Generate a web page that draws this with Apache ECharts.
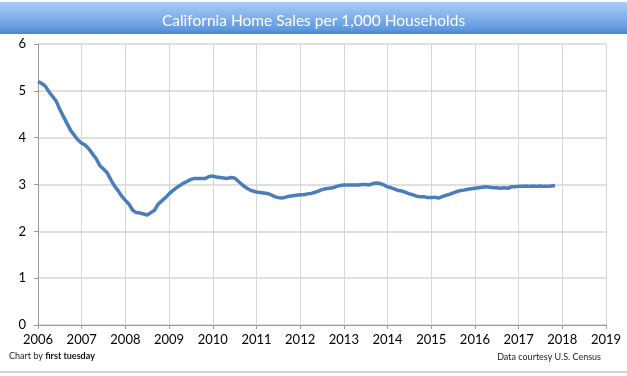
<!DOCTYPE html>
<html>
<head>
<meta charset="utf-8">
<script src="https://cdn.jsdelivr.net/npm/echarts@6/dist/echarts.min.js"></script>
<style>
  html, body { margin: 0; padding: 0; background: #fff; }
  #chart { width: 627px; height: 376px; }
</style>
</head>
<body>
<div id="chart"></div>
<script>
// 加州每千户住宅销量（月度，2006年1月起）
var startYear = 2006;
var yearTicks = [2006, 2007, 2008, 2009, 2010, 2011, 2012, 2013, 2014, 2015, 2016, 2017, 2018, 2019];
var salesPer1000 = [
    5.20, 5.16, 5.10, 4.98, 4.88, 4.78, 4.60, 4.45, 4.30, 4.15, 4.05, 3.95, // 2006
    3.88, 3.84, 3.76, 3.65, 3.55, 3.40, 3.33, 3.25, 3.10, 2.97, 2.87, 2.75, // 2007
    2.66, 2.58, 2.45, 2.40, 2.39, 2.37, 2.35, 2.40, 2.45, 2.58, 2.65, 2.72, // 2008
    2.80, 2.87, 2.93, 2.98, 3.03, 3.07, 3.11, 3.13, 3.13, 3.13, 3.13, 3.17, // 2009
    3.18, 3.16, 3.15, 3.14, 3.13, 3.15, 3.14, 3.07, 3.00, 2.94, 2.89, 2.86, // 2010
    2.84, 2.83, 2.82, 2.81, 2.78, 2.74, 2.72, 2.71, 2.73, 2.75, 2.76, 2.77, // 2011
    2.78, 2.78, 2.80, 2.81, 2.83, 2.86, 2.89, 2.91, 2.92, 2.93, 2.96, 2.98, // 2012
    2.99, 2.99, 2.99, 2.99, 2.99, 3.00, 3.00, 2.99, 3.02, 3.03, 3.02, 2.99, // 2013
    2.95, 2.93, 2.90, 2.87, 2.86, 2.83, 2.80, 2.78, 2.75, 2.74, 2.74, 2.72, // 2014
    2.72, 2.73, 2.71, 2.74, 2.77, 2.79, 2.82, 2.85, 2.87, 2.88, 2.90, 2.91, // 2015
    2.92, 2.93, 2.94, 2.95, 2.94, 2.93, 2.93, 2.92, 2.93, 2.92, 2.95, 2.95, // 2016
    2.96, 2.96, 2.97, 2.96, 2.97, 2.96, 2.97, 2.96, 2.96, 2.97, 2.98        // 2017
];

var chart = echarts.init(document.getElementById('chart'));
var fontFam = 'Lato, "Open Sans", sans-serif';

// 月度序号换算成年份坐标
var lineData = salesPer1000.map(function (v, i) {
    return [startYear + i / 12, v];
});

var option = {
    backgroundColor: '#fff',
    animation: false,
    title: {
        text: 'California Home Sales per 1,000 Households',
        left: 'center',
        top: 8,
        textStyle: { color: '#fff', fontSize: 15.5, fontWeight: 'normal', fontFamily: fontFam }
    },
    graphic: [
        { // 标题栏渐变背景
            type: 'rect', z: -1, left: 0, top: 2,
            shape: { width: 627, height: 32 },
            style: {
                fill: new echarts.graphic.LinearGradient(0, 0, 0, 1, [
                    { offset: 0, color: '#abcdf7' },
                    { offset: 0.85, color: '#6199e0' },
                    { offset: 1, color: '#4a84d0' }
                ])
            }
        },
        {
            type: 'rect', left: 0, top: 371,
            shape: { width: 627, height: 2 },
            style: { fill: '#d0d0d0' }
        },
        {
            type: 'text', left: 9, top: 352,
            style: {
                text: '{a|Chart by }{b|first tuesday}',
                rich: {
                    a: { fontSize: 9, fill: '#222', fontFamily: fontFam },
                    b: { fontSize: 9, fill: '#111', fontWeight: 'bold', fontFamily: fontFam }
                }
            }
        },
        {
            type: 'text', right: 26, top: 353,
            style: { text: 'Data courtesy U.S. Census', fontSize: 9, fill: '#222', fontFamily: fontFam }
        }
    ],
    grid: { left: 38, right: 21, top: 44, bottom: 51 },
    xAxis: {
        type: 'value',
        min: yearTicks[0],
        max: yearTicks[yearTicks.length - 1],
        interval: 1,
        axisLine: { show: true, lineStyle: { color: '#9a9a9a' } },
        axisTick: { show: true, length: 4, lineStyle: { color: '#9a9a9a' } },
        axisLabel: {
            color: '#000', fontSize: 13, fontFamily: fontFam, margin: 8,
            formatter: function (v) { return String(v); }
        },
        splitLine: { show: true, lineStyle: { color: '#d6d6d6', width: 1 } }
    },
    yAxis: {
        type: 'value',
        min: 0,
        max: 6,
        interval: 1,
        axisLine: { show: true, lineStyle: { color: '#9a9a9a' } },
        axisTick: { show: true, length: 4, lineStyle: { color: '#9a9a9a' } },
        axisLabel: { color: '#000', fontSize: 13, fontFamily: fontFam, margin: 12 },
        splitLine: { show: true, lineStyle: { color: '#d6d6d6', width: 1.5 } }
    },
    series: [{
        type: 'line',
        data: lineData,
        showSymbol: false,
        lineStyle: { color: '#4a7ebb', width: 3.5 },
        smooth: false
    }]
};
chart.setOption(option);
</script>
</body>
</html>
